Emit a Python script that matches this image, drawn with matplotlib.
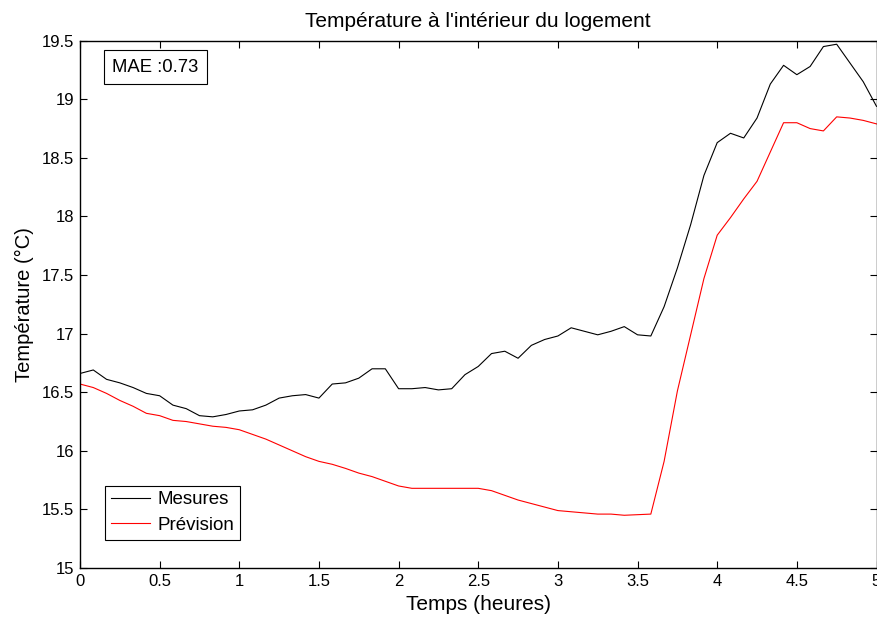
import numpy as np
import matplotlib
matplotlib.use("Agg")
import matplotlib.pyplot as plt

plt.rcParams['font.family'] = ['Liberation Sans', 'DejaVu Sans']

# temps en heures, pas de 5 minutes
temps = np.arange(61) / 12.0

mesures = [16.66, 16.69, 16.61, 16.58, 16.54, 16.49, 16.47, 16.39, 16.36, 16.30,
           16.29, 16.31, 16.34, 16.35, 16.39, 16.45, 16.47, 16.48, 16.45, 16.57,
           16.58, 16.62, 16.70, 16.70, 16.53, 16.53, 16.54, 16.52, 16.53, 16.65,
           16.72, 16.83, 16.85, 16.79, 16.90, 16.95, 16.98, 17.05, 17.02, 16.99,
           17.02, 17.06, 16.99, 16.98, 17.23, 17.56, 17.93, 18.35, 18.63, 18.71,
           18.67, 18.84, 19.13, 19.29, 19.21, 19.28, 19.45, 19.47, 19.31, 19.15,
           18.94]

prevision = [16.57, 16.54, 16.49, 16.43, 16.38, 16.32, 16.30, 16.26, 16.25, 16.23,
             16.21, 16.20, 16.18, 16.14, 16.10, 16.05, 16.00, 15.95, 15.91, 15.885,
             15.85, 15.81, 15.78, 15.74, 15.70, 15.68, 15.68, 15.68, 15.68, 15.68,
             15.68, 15.66, 15.62, 15.58, 15.55, 15.52, 15.49, 15.48, 15.47, 15.46,
             15.46, 15.45, 15.455, 15.46, 15.91, 16.51, 16.99, 17.47, 17.84, 17.99,
             18.15, 18.30, 18.55, 18.80, 18.80, 18.75, 18.73, 18.85, 18.84, 18.82,
             18.79]

mae = 0.73

fig = plt.figure(figsize=(8.77, 6.17), dpi=100)
ax = fig.add_axes([80 / 877, 49 / 617, 796.5 / 877, 527.3 / 617])

ax.plot(temps, mesures, color='black', lw=0.8, label='Mesures')
ax.plot(temps, prevision, color='red', lw=0.8, label='Prévision')

ax.set_xlim(0, 5)
ax.set_ylim(15, 19.5)
ax.set_xticks(np.arange(0, 5.01, 0.5))
ax.set_xticklabels(['0', '0.5', '1', '1.5', '2', '2.5', '3', '3.5', '4', '4.5', '5'])
ax.set_yticks(np.arange(15, 19.51, 0.5))
ax.set_yticklabels(['15', '15.5', '16', '16.5', '17', '17.5', '18', '18.5', '19', '19.5'])
ax.tick_params(direction='in', top=True, right=True, length=5, width=0.8,
               labelsize=12, pad=4)
for s in ax.spines.values():
    s.set_linewidth(1.0)

ax.set_title("Température à l'intérieur du logement", fontsize=15, pad=10)
ax.set_xlabel('Temps (heures)', fontsize=15, labelpad=5)
ax.set_ylabel('Température (°C)', fontsize=14.5, labelpad=6)

leg = ax.legend(loc='lower left', bbox_to_anchor=(0.032, 0.054), borderaxespad=0,
                fontsize=13.5, fancybox=False, framealpha=1, edgecolor='black',
                handlelength=2.1, handletextpad=0.4, labelspacing=0.45,
                borderpad=0.3)
leg.get_frame().set_linewidth(0.8)

ax.text(0.04, 0.95, 'MAE :' + str(mae), transform=ax.transAxes, fontsize=13.3,
        va='center', ha='left',
        bbox=dict(boxstyle='square,pad=0.45', fc='white', ec='black', lw=0.8))

fig.savefig('out.png', dpi=100)
